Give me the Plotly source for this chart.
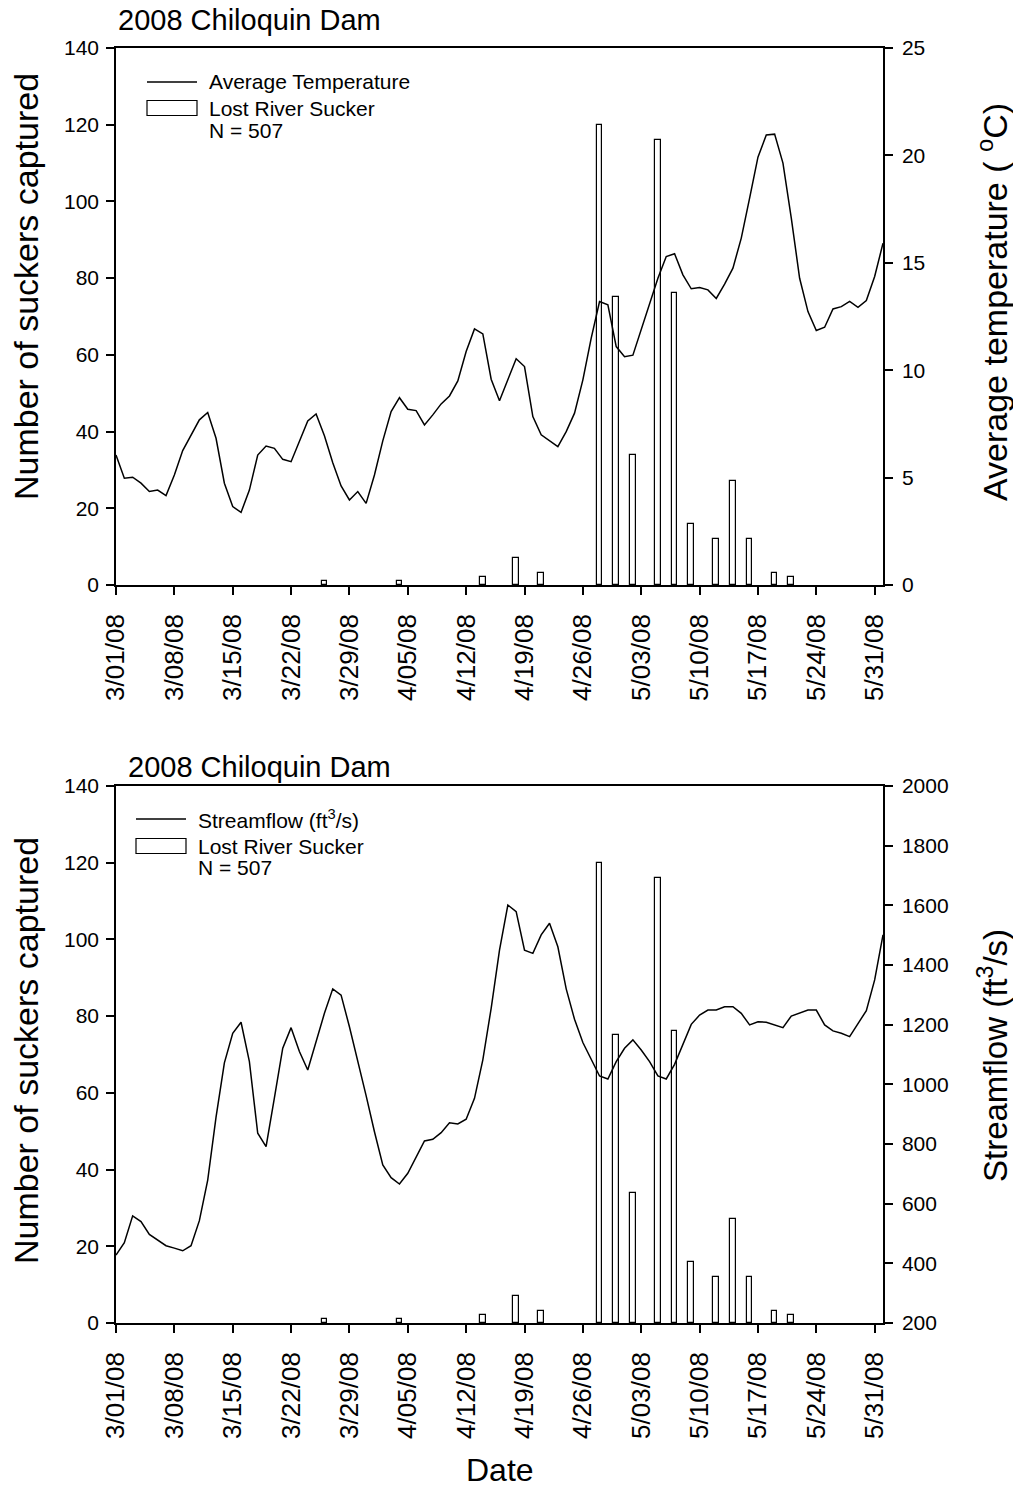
import pandas as pd
import plotly.graph_objects as go

# Daily series, 1 March - 1 June 2008
start_date = "2008-03-01"
avg_temperature_c = [
    6.05, 4.97, 5.02, 4.74, 4.35, 4.42, 4.16, 5.12, 6.26, 6.99,
    7.69, 8.03, 6.83, 4.74, 3.65, 3.38, 4.42, 6.05, 6.47, 6.36,
    5.85, 5.74, 6.67, 7.64, 7.96, 6.95, 5.69, 4.61, 3.96, 4.35,
    3.80, 5.12, 6.71, 8.07, 8.72, 8.18, 8.12, 7.45, 7.92, 8.43,
    8.80, 9.50, 10.87, 11.92, 11.69, 9.58, 8.58, 9.55, 10.53, 10.17,
    7.84, 6.99, 6.71, 6.44, 7.14, 8.00, 9.55, 11.49, 13.20, 13.04,
    11.10, 10.63, 10.70, 11.88, 13.09, 14.28, 15.29, 15.42, 14.44, 13.79,
    13.85, 13.74, 13.34, 14.01, 14.75, 16.15, 18.01, 19.92, 20.95, 20.99,
    19.64, 17.08, 14.28, 12.73, 11.85, 12.00, 12.85, 12.96, 13.20, 12.93,
    13.24, 14.36, 15.91,
]
streamflow_cfs = [
    428, 469, 559, 540, 497, 478, 459, 451, 442, 459,
    543, 679, 890, 1072, 1171, 1208, 1076, 836, 791, 955,
    1121, 1190, 1110, 1048, 1140, 1238, 1320, 1299, 1193, 1082,
    962, 841, 730, 687, 666, 702, 757, 810, 816, 838,
    871, 867, 883, 953, 1082, 1255, 1450, 1601, 1579, 1450,
    1439, 1501, 1540, 1461, 1320, 1218, 1140, 1082, 1028, 1018,
    1076, 1121, 1149, 1115, 1076, 1028, 1018, 1067, 1132, 1201,
    1232, 1249, 1249, 1260, 1260, 1238, 1199, 1210, 1208, 1199,
    1190, 1229, 1240, 1249, 1249, 1199, 1179, 1171, 1160, 1205,
    1247, 1350, 1501,
]

# Lost River Sucker captures by date (N = 507)
capture_dates = [
    "2008-03-26", "2008-04-04", "2008-04-14", "2008-04-18", "2008-04-21",
    "2008-04-28", "2008-04-30", "2008-05-02", "2008-05-05", "2008-05-07",
    "2008-05-09", "2008-05-12", "2008-05-14", "2008-05-16", "2008-05-19",
    "2008-05-21",
]
suckers_captured = [1, 1, 2, 7, 3, 120, 75, 34, 116, 76, 16, 12, 27, 12, 3, 2]

tick_dates = pd.date_range("2008-03-01", "2008-05-31", freq="7D")
tick_labels = ["3/01/08", "3/08/08", "3/15/08", "3/22/08", "3/29/08", "4/05/08",
               "4/12/08", "4/19/08", "4/26/08", "5/03/08", "5/10/08", "5/17/08",
               "5/24/08", "5/31/08"]

days = pd.date_range(start_date, periods=len(avg_temperature_c), freq="D")
capture_ts = pd.to_datetime(capture_dates)

FONT = "Liberation Sans, Arial, sans-serif"
W, H = 1013, 1500
L, R, T, B = 116, 130, 48, 177
PW, PH = W - L - R, H - T - B


def px(x):
    return (x - L) / PW


def py(y):
    return (H - B - y) / PH


bar_width_ms = 0.68 * 86400000
bar_style = dict(color="white", line=dict(color="black", width=1.2))
line_style = dict(color="black", width=1.5)

fig = go.Figure()
fig.add_trace(go.Bar(x=capture_ts, y=suckers_captured, width=bar_width_ms,
                     marker=bar_style, xaxis="x", yaxis="y", showlegend=False))
fig.add_trace(go.Scatter(x=days, y=avg_temperature_c, mode="lines", line=line_style,
                         xaxis="x", yaxis="y2", showlegend=False))
fig.add_trace(go.Bar(x=capture_ts, y=suckers_captured, width=bar_width_ms,
                     marker=bar_style, xaxis="x2", yaxis="y3", showlegend=False))
fig.add_trace(go.Scatter(x=days, y=streamflow_cfs, mode="lines", line=line_style,
                         xaxis="x2", yaxis="y4", showlegend=False))

top_dom = [py(585), 1.0]
bot_dom = [0.0, py(786)]

xaxis_common = dict(
    type="date", range=["2008-03-01", "2008-06-01"],
    tickvals=tick_dates, ticktext=tick_labels, tickangle=-90,
    showline=True, linecolor="black", linewidth=1.5, mirror=True,
    ticks="outside", ticklen=8, tickwidth=1.5, tickcolor="black",
    showgrid=False, zeroline=False, ticklabelstandoff=9,
    tickfont=dict(family=FONT, size=26, color="black"),
)
yleft_common = dict(
    range=[0, 140], tickvals=list(range(0, 141, 20)),
    showline=True, linecolor="black", linewidth=1.5,
    ticks="outside", ticklen=8, tickwidth=1.5, tickcolor="black",
    showgrid=False, zeroline=False, ticklabelstandoff=3,
    tickfont=dict(family=FONT, size=21, color="black"),
)
yright_common = dict(
    side="right", showline=True, linecolor="black", linewidth=1.5,
    ticks="outside", ticklen=8, tickwidth=1.5, tickcolor="black",
    showgrid=False, zeroline=False, ticklabelstandoff=5,
    tickfont=dict(family=FONT, size=21, color="black"),
)

fig.update_layout(
    width=W, height=H,
    margin=dict(l=L, r=R, t=T, b=B, pad=0),
    paper_bgcolor="white", plot_bgcolor="white",
    template="none",
    bargap=0,
    xaxis=dict(**xaxis_common, anchor="y", domain=[0, 1]),
    yaxis=dict(**yleft_common, domain=top_dom, anchor="x"),
    yaxis2=dict(**yright_common, range=[0, 25], tickvals=list(range(0, 26, 5)),
                overlaying="y", anchor="x"),
    xaxis2=dict(**xaxis_common, anchor="y3", domain=[0, 1]),
    yaxis3=dict(**yleft_common, domain=bot_dom, anchor="x2"),
    yaxis4=dict(**yright_common, range=[200, 2000], tickvals=list(range(200, 2001, 200)),
                overlaying="y3", anchor="x2"),
)

annotations = []
shapes = []


def text(x, y, s, size, angle=0, xanchor="left"):
    annotations.append(dict(
        x=px(x), y=py(y), xref="paper", yref="paper", text=s, showarrow=False,
        xanchor=xanchor, yanchor="middle", textangle=angle,
        font=dict(family=FONT, size=size, color="black"),
    ))


# Panel titles
text(116, 20, "2008 Chiloquin Dam", 29)
text(126, 767, "2008 Chiloquin Dam", 29)

# Axis titles
text(26, 287, "Number of suckers captured", 34, angle=-90, xanchor="center")
text(26, 1051, "Number of suckers captured", 34, angle=-90, xanchor="center")
text(992, 302, "Average temperature ( <sup>o</sup>C)", 34, angle=-90, xanchor="center")
text(993, 1055, "Streamflow (ft<sup>3</sup>/s)", 33, angle=-90, xanchor="center")
text(500, 1470, "Date", 32, xanchor="center")

# Legend blocks
def legend(x0, y_line, y_box, y_n, line_label):
    shapes.append(dict(type="line", xref="paper", yref="paper",
                       x0=px(x0), x1=px(x0 + 50), y0=py(y_line), y1=py(y_line),
                       line=dict(color="black", width=1.5)))
    shapes.append(dict(type="rect", xref="paper", yref="paper",
                       x0=px(x0), x1=px(x0 + 50), y0=py(y_box - 7.5), y1=py(y_box + 7.5),
                       line=dict(color="black", width=1.2), fillcolor="white"))
    text(x0 + 60, y_line, line_label, 21)
    text(x0 + 60, y_box, "Lost River Sucker", 21)
    text(x0 + 60, y_n, "N = 507", 21)


legend(147, 82, 108, 131, "Average Temperature")
legend(136, 819, 846, 868, "Streamflow (ft<sup>3</sup>/s)")

fig.update_layout(annotations=annotations, shapes=shapes)
fig.write_html("out.html")
